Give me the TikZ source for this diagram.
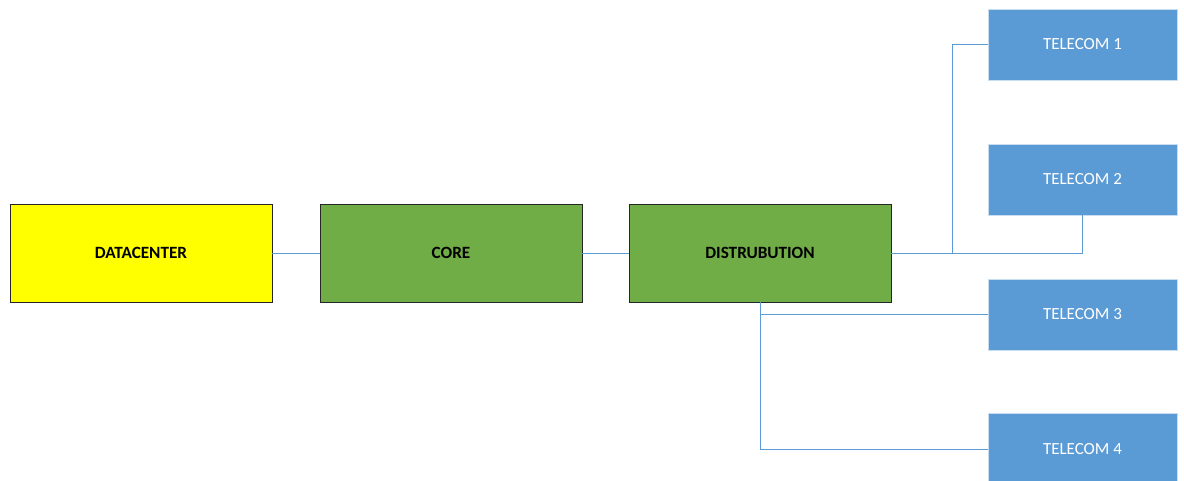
\documentclass[tikz,border=0pt]{standalone}
\usepackage{fontspec}
\setmainfont{Carlito}
\definecolor{dcyellow}{HTML}{FFFF00}
\definecolor{netgreen}{HTML}{70AD47}
\definecolor{telblue}{HTML}{5B9BD5}
\definecolor{telborder}{HTML}{C9DDF0}
\definecolor{linkblue}{HTML}{5B9BD5}
\begin{document}
\begin{tikzpicture}[x=1pt,y=-1pt,
  bigbox/.style={draw=black!85,line width=0.8pt,minimum width=262pt,minimum height=98pt,inner sep=0pt,font=\fontsize{17.2}{19}\selectfont\bfseries,text=black},
  telbox/.style={fill=telblue,draw=telborder,line width=0.6pt,minimum width=189pt,minimum height=71pt,inner sep=0pt,font=\fontsize{17}{19}\selectfont,text=white},
  link/.style={draw=linkblue,line width=0.9pt}]
\useasboundingbox (0,0) rectangle (1184,481);
\node[bigbox,fill=dcyellow] (dc) at (141,253) {DATACENTER};
\node[bigbox,fill=netgreen] (core) at (451,253) {CORE};
\node[bigbox,fill=netgreen] (dist) at (760,253) {DISTRUBUTION};
\node[telbox] (t1) at (1082.5,44.5) {TELECOM 1};
\node[telbox] (t2) at (1082.5,179.5) {TELECOM 2};
\node[telbox] (t3) at (1082.5,314.5) {TELECOM 3};
\node[telbox] (t4) at (1082.5,449) {TELECOM 4};
\coordinate (bend1) at (952,253);
\draw[link] (dc.east) -- (core.west);
\draw[link] (core.east) -- (dist.west);
\draw[link] (dist.east) -- (bend1) |- (t1.west);
\draw[link] (dist.east) -| (t2.south);
\draw[link] (dist.south) |- (t3.west);
\draw[link] (dist.south) |- (t4.west);
\end{tikzpicture}
\end{document}
